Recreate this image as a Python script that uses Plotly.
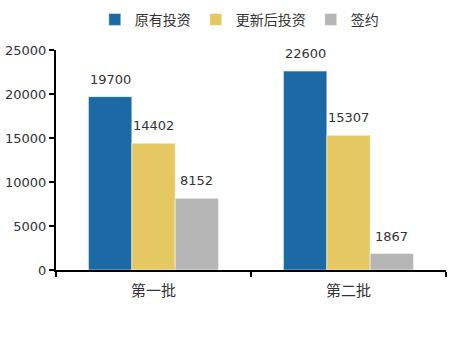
import plotly.graph_objects as go

categories = ["第一批", "第二批"]
series_names = ["原有投资", "更新后投资", "签约"]
original = [19700, 22600]
updated = [14402, 15307]
signed = [8152, 1867]
colors = ["#1B6AA5", "#E5C862", "#B6B6B6"]
y_ticks = [0, 5000, 10000, 15000, 20000, 25000]

bargap = 0.333
all_series = [original, updated, signed]
n = len(all_series)
slot = (1 - bargap) / n

fig = go.Figure()
for i, (name, vals, col) in enumerate(zip(series_names, all_series, colors)):
    fig.add_trace(go.Bar(
        x=categories, y=vals, name=name,
        marker=dict(color=col, line=dict(color="white", width=0.5)),
    ))
    for ci, v in enumerate(vals):
        fig.add_annotation(
            x=ci + (i - (n - 1) / 2) * slot, y=v, text=str(v),
            showarrow=False, yanchor="bottom", yshift=8,
            font=dict(family="DejaVu Sans", size=13, color="#333333"),
        )

fig.update_layout(
    width=450, height=338,
    margin=dict(l=56, r=4, t=48, b=68),
    plot_bgcolor="white", paper_bgcolor="white",
    barmode="group", bargap=bargap, bargroupgap=0,
    legend=dict(orientation="h", x=0.47, xanchor="center", y=1.21, yanchor="top",
                font=dict(family="Noto Sans CJK SC", size=14, color="#333333"),
                itemwidth=30, traceorder="normal"),
    font=dict(family="DejaVu Sans", size=13, color="#333333"),
    showlegend=True,
)
fig.update_yaxes(range=[0, 25000], tickvals=y_ticks, ticktext=[str(t) for t in y_ticks],
                 showgrid=False,
                 showline=True, linecolor="black", linewidth=2,
                 ticks="outside", ticklen=5, tickcolor="black", tickwidth=1.5,
                 tickfont=dict(family="DejaVu Sans", size=13, color="#333333"),
                 zeroline=False)
fig.update_xaxes(showline=True, linecolor="black", linewidth=2,
                 ticks="outside", tickson="boundaries", ticklen=5, tickcolor="black", tickwidth=2,
                 ticklabelstandoff=6,
                 tickfont=dict(family="Noto Sans CJK SC", size=15, color="#333333"))

fig.write_html("out.html")
